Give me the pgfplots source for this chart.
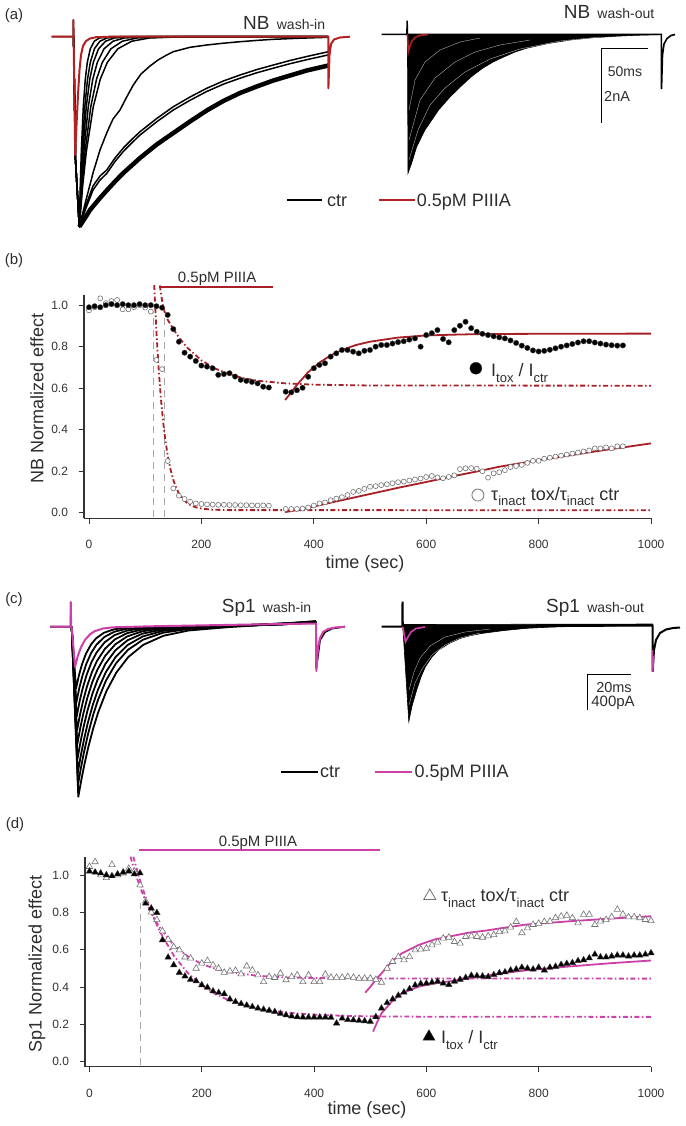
\documentclass[border=0pt]{standalone}
\usepackage{fontspec}
\setmainfont{Liberation Sans}
\usepackage{pgfplots}
\pgfplotsset{compat=1.18}
\definecolor{tred}{RGB}{178,34,34}
\definecolor{fred}{RGB}{168,32,38}
\definecolor{mag}{RGB}{204,64,168}
\definecolor{txt}{RGB}{45,45,45}
\newcommand{\fs}[1]{\fontsize{#1}{#1}\selectfont}
\newcommand{\sbx}[1]{\raisebox{-0.32em}{\fs{13}#1}}
\pgfplotsset{
 dataax/.style={scale only axis, axis lines*=left,
   axis line style={-, line width=1.1pt, black!80},
   tick align=outside, major tick length=5.5pt,
   tick style={line width=1pt, black!80},
   xtick={0,200,400,600,800,1000}, ytick={0,0.2,0.4,0.6,0.8,1},
   clip=false,
   tick label style={font=\fs{12}, text=black!80},
   /pgf/number format/assume math mode=true,
   /pgf/number format/1000 sep={},
   yticklabel style={/pgf/number format/.cd, fixed, fixed zerofill, precision=1, /tikz/.cd, xshift=-7pt},
   xticklabel style={yshift=-13pt}},
 tr/.style={black, line width=1.5pt, line join=round},
 dd/.style={line width=1.8pt, dash pattern=on 5pt off 2.5pt on 1.5pt off 2.5pt},
 gd/.style={black!35, line width=1pt, dash pattern=on 7pt off 5pt},
 wl/.style={white, line width=0.35pt, opacity=0.75},
}
\begin{document}
\begin{tikzpicture}
\useasboundingbox (0,0) rectangle (685pt,-1126pt);
% ================= pixel axis for traces (a) and (c)
\begin{axis}[at={(0pt,0pt)}, anchor=north west, x=1pt, y=1pt, y dir=reverse,
  xmin=0, xmax=685, ymin=0, ymax=1126, hide axis, clip=false, scale only axis]
% ---- (a) wash-in black traces
\addplot[tr] coordinates {(51.7,36.7)(73.3,36.7)(73.4,20)(73.6,36.7)(75.5,160)(79.3,226.7)(80.3,184.7)(81.3,151.9)(83.3,106.6)(85.3,79.1)(87.3,62.4)(90.3,48.8)(94.3,41.2)(99.3,38.0)(109.3,36.7)(328.3,36.7)};
\addplot[tr] coordinates {(73.6,36.7)(75.5,160)(79.3,226.7)(80.7,184.7)(82.05,151.9)(84.8,106.6)(87.55,79.1)(90.3,62.4)(94.4,48.8)(99.9,41.2)(106.8,38.0)(120.55,36.7)(328.3,36.7)};
\addplot[tr] coordinates {(73.6,36.7)(75.5,160)(79.3,226.7)(81.05,184.7)(82.8,151.9)(86.3,106.6)(89.8,79.1)(93.3,62.4)(98.55,48.8)(105.55,41.2)(114.3,38.0)(131.8,36.7)(328.3,36.7)};
\addplot[tr] coordinates {(73.6,36.7)(75.5,160)(79.3,226.7)(81.55,184.7)(83.8,151.9)(88.3,106.6)(92.8,79.1)(97.3,62.4)(104.05,48.8)(113.05,41.2)(124.3,38.0)(146.8,36.7)(328.3,36.7)};
\addplot[tr] coordinates {(73.6,36.7)(75.5,160)(79.3,226.7)(82.2,184.7)(85.05,151.9)(90.8,106.6)(96.55,79.1)(102.3,62.4)(110.9,48.8)(122.4,41.2)(136.8,38.0)(165.55,36.7)(328.3,36.7)};
\addplot[tr] coordinates {(73.6,36.7)(75.5,160)(79.3,226.7)(82.8,184.7)(86.3,151.9)(93.3,106.6)(100.3,79.1)(107.3,62.4)(117.8,48.8)(131.8,41.2)(149.3,38.0)(184.3,36.7)(328.3,36.7)};
\addplot[tr] coordinates {(73.6,36.7)(75.5,160)(79.3,226.7)(86,200)(93.3,172)(100,150)(106.7,133)(113,119)(120,110)(126.7,97)(133.3,85)(141,74)(150,66)(158,60)(166.7,55)(173.3,51.7)(190,47.3)(206.7,45)(223.3,43.2)(240,41.7)(256.7,40.4)(273.3,39.3)(300,38.2)(328.3,37.3)};
\addplot[tr] coordinates {(79.3,226.7)(86,205)(93,186)(100,176)(106.7,170)(115,158)(123.3,148)(131.7,139.5)(140,131.7)(156.7,118.5)(173.3,106.7)(190,97)(206.7,88.3)(223.3,81)(240,75)(256.7,69.6)(273.3,65)(290,60.5)(306.7,56.5)(328.3,51.7)};
\addplot[tr] coordinates {(79.3,226.7)(86,208)(93,190)(100,180)(106.7,173.5)(115,161.5)(123.3,151.5)(131.7,143)(140,135)(156.7,121.8)(173.3,110)(190,100.3)(206.7,91.5)(223.3,84.2)(240,78.2)(256.7,72.8)(273.3,68.2)(290,63.7)(306.7,59.7)(328.3,54.9)};
\addplot[black, line width=4.5pt, line join=round] coordinates {(79.3,226.7)(85,218)(90,210)(100,198)(106.7,190.5)(115,181.5)(123.3,173)(131.7,165.5)(140,158)(156.7,144.5)(173.3,133)(190,121.5)(206.7,110.5)(223.3,101)(240,93)(256.7,86.5)(273.3,80.5)(290,75.5)(306.7,70.5)(328.3,65.5)};
% red (a) wash-in
\addplot[tred, line width=2pt, line join=round] coordinates {(51.7,36.7)(73.3,36.7)(73.4,20)(73.6,36.7)(75.2,155)(76.5,125)(78,95)(79.5,70)(81,55)(83,46)(86,41)(90,38.5)(96,37.2)(110,36.7)(328.3,36.7)(328.4,88.3)(329.5,55)(331,44)(334,39.5)(340,37.5)(350,36.7)};
% ---- (a) wash-out
\addplot[black, fill=black, line width=0.6pt] coordinates {(407.4,34.3)(408,173.3)(412,162)(416.7,146.7)(425,130)(438.6,110)(450,97)(460.5,86.7)(471,77)(482.5,68.3)(493,62)(504.4,56.7)(515,52)(526.3,48.3)(548,43.5)(570.2,40)(592,37.8)(614,36.3)(636,35.3)(657.9,34.7)(661.4,34.4)} -- cycle;
\addplot[wl] coordinates {(409,110)(415,80)(425,62)(440,50)(460,42)(480,38)};
\addplot[wl] coordinates {(409,140)(420,100)(435,78)(455,62)(475,52)(500,45)(530,40)};
\addplot[wl] coordinates {(409,160)(418,130)(430,105)(445,88)(465,72)(490,59)(520,49)(560,41)(600,37)};
\addplot[black, line width=1.6pt] coordinates {(381.6,34.3)(407,34.3)(407.1,20.7)(407.4,34.3)(661.4,34.4)(661.5,89)(662.5,55)(664,44)(667,38.5)(671,35.5)(675,34.5)};
\addplot[tred, line width=1.6pt] coordinates {(407.4,34.3)(408.3,52)(410,46)(412,41)(415,37.5)(420,35.3)(428,34.5)};
% scale bar (a)
\addplot[black, line width=1pt] coordinates {(648.2,48.3)(601.8,48.3)(601.8,123.3)};
% legend (a)
\addplot[black, line width=2pt] coordinates {(287.3,200)(322.4,200)};
\addplot[tred, line width=2pt] coordinates {(379.4,200)(414.5,200)};
% ---- (c) wash-in black traces
\addplot[tr, line width=1.8pt] coordinates {(50,626.7)(70.7,626.7)(70.8,602.3)(71.1,626.7)(71.7,627)(78.3,796.7)(81.3,780.0)(84.3,764.9)(88.3,747.1)(93.3,728.1)(98.3,712.0)(106.3,691.4)(116.3,672.6)(128.3,657.0)(143.3,644.8)(163.3,635.8)(188.3,630.5)(230,627)(280,624)(316,622)(316.3,668)(320,640)(325,632)(332,628.5)(345,626.7)};
\addplot[tr, line width=1.8pt] coordinates {(71.7,627)(78,784.7)(81,767.5)(84,752.2)(88,734.3)(93,715.4)(98,699.9)(106,680.5)(116,663.3)(128,649.8)(143,639.7)(163,632.7)(188,629.0)(230,626.5)(280,623.5)(316,621.5)};
\addplot[tr, line width=1.8pt] coordinates {(71.7,627)(77.8,772.7)(80.8,755.5)(83.8,740.4)(87.8,722.9)(92.8,704.9)(97.8,690.2)(105.8,672.2)(115.8,656.7)(127.8,644.9)(142.8,636.4)(162.8,630.9)(187.8,628.2)(230,626)(280,623.5)(316,622)};
\addplot[tr, line width=1.8pt] coordinates {(71.7,627)(77.5,758.7)(80.5,741.9)(83.5,727.2)(87.5,710.5)(92.5,693.5)(97.5,679.9)(105.5,663.7)(115.5,650.2)(127.5,640.3)(142.5,633.6)(162.5,629.5)(187.5,627.6)(230,626)(280,624)(316,621)};
\addplot[tr, line width=1.8pt] coordinates {(71.7,627)(77.2,744.7)(80.2,728.3)(83.2,714.1)(87.2,698.3)(92.2,682.4)(97.2,670.1)(105.2,655.8)(115.2,644.4)(127.2,636.4)(142.2,631.3)(162.2,628.4)(200,626.5)(280,624)(316,622)};
\addplot[tr, line width=1.8pt] coordinates {(71.7,627)(77,730.7)(80,714.7)(83,701.2)(87,686.4)(92,671.9)(97,660.9)(105,648.7)(115,639.3)(127,633.2)(142,629.5)(162,627.6)(200,626.5)(280,624.5)(316,622.5)};
\addplot[tr, line width=1.8pt] coordinates {(71.7,627)(76.6,716.7)(79.6,701.3)(82.6,688.6)(86.6,674.9)(91.6,661.9)(96.6,652.5)(104.6,642.3)(114.6,635.1)(126.6,630.7)(141.6,628.2)(200,626.5)(280,624)(316,622)};
\addplot[tr, line width=1.8pt] coordinates {(71.7,627)(76.3,702.7)(79.3,688.0)(82.3,676.2)(86.3,663.9)(91.3,652.7)(96.3,644.9)(104.3,637.0)(114.3,631.7)(126.3,628.8)(200,626.5)(280,624.5)(316,622.5)};
\addplot[tr, line width=1.8pt] coordinates {(71.7,627)(76,688.7)(79,675.0)(82,664.3)(86,653.6)(91,644.5)(96,638.4)(104,632.7)(114,629.3)(126,627.7)(200,626.5)(280,624.5)(316,622)};
\addplot[mag, line width=2pt, line join=round] coordinates {(50,626.7)(70.7,626.7)(70.8,602.3)(71.1,626.7)(71.7,627)(75,666.7)(78,655.4)(81,647.2)(85,639.9)(90,634.3)(95,631.0)(103,628.5)(113,627.3)(150,626.3)(250,624.5)(316,623.5)(316.3,671)(318,648)(320,638)(323,632)(328,629)(335,627.5)(345,626.7)};
% ---- (c) wash-out
\addplot[black, fill=black, line width=0.6pt] coordinates {(402.8,626.7)(408.8,721.7)(412,706)(416.7,690)(421,677)(425.4,666.7)(432,657)(438.6,650)(449,643.5)(460.5,638.3)(471,635.5)(482.5,633.3)(504,630.5)(526.3,628.3)(548,627.2)(570,626.5)(652.6,625.5)(652.6,624)(402.8,624.5)} -- cycle;
\addplot[wl] coordinates {(409,690)(414,672)(420,658)(430,646)(445,637)(465,632)(490,629)};
\addplot[wl] coordinates {(409,705)(415,683)(422,669)(432,655)(445,645)(460,638)(480,633)};
\addplot[black, line width=2pt] coordinates {(381.6,626.7)(402.4,626.7)(402.5,601.7)(402.8,626.7)(652.6,625.5)(652.7,671.7)(654,650)(656,640)(660,633)(666,629.5)(673,628)(680,627.5)};
\addplot[mag, line width=1.6pt] coordinates {(402.8,626.7)(405.5,641.7)(408,637)(411,632)(416,628.5)(425,627)};
\addplot[mag, line width=1.6pt] coordinates {(652.6,650)(652.7,671.7)(653.6,656)};
% scale bar (c)
\addplot[black, line width=1pt] coordinates {(630.7,674)(587.7,674)(587.7,710)};
% legend (c)
\addplot[black, line width=2pt] coordinates {(280.7,771.7)(318,771.7)};
\addplot[mag, line width=2pt] coordinates {(375,771.7)(412.3,771.7)};
\end{axis}
% ================= panel (b)
\begin{axis}[dataax, at={(84pt,-518.3pt)}, anchor=south west, width=567pt, height=223.3pt,
  xmin=-8.9, xmax=1000, ymin=-0.027, ymax=1.049]
\addplot[gd] coordinates {(114.4,-0.02)(114.4,0.97)};
\addplot[gd] coordinates {(134,-0.02)(134,0.97)};
\addplot[only marks, mark=*, mark size=2.5pt, mark options={draw=black!55, fill=white, line width=0.6pt}] coordinates {
(0,0.975)(10,0.99)(20,1.033)(30,1.01)(40,1.02)(50,1.025)(60,0.98)(70,0.98)(80,0.99)(90,1.0)(100,0.988)(110,0.969)
(120,0.736)(130,0.692)(140,0.249)(150,0.117)(160,0.082)(170,0.066)(180,0.053)(190,0.045)(200,0.042)(210,0.040)
(220,0.039)(230,0.038)(240,0.038)(250,0.037)(260,0.037)(270,0.036)(280,0.036)(290,0.035)(300,0.035)(310,0.035)(320,0.034)
(350,0.018)(360,0.018)(370,0.018)(380,0.02)(390,0.025)(400,0.035)(410,0.045)(420,0.05)(430,0.06)(440,0.068)(450,0.075)
(460,0.085)(470,0.1)(480,0.105)(490,0.115)(500,0.125)(510,0.128)(520,0.133)(530,0.137)(540,0.142)(550,0.147)(560,0.15)
(570,0.155)(580,0.16)(590,0.165)(600,0.172)(610,0.177)(620,0.17)(630,0.166)(640,0.172)(650,0.18)(660,0.21)(670,0.214)
(680,0.215)(690,0.212)(700,0.2)(710,0.169)(720,0.19)(730,0.195)(740,0.205)(750,0.22)(760,0.225)(770,0.23)(780,0.24)
(790,0.25)(800,0.25)(810,0.26)(820,0.265)(830,0.27)(840,0.275)(850,0.28)(860,0.285)(870,0.29)(880,0.295)(890,0.30)
(900,0.31)(910,0.31)(920,0.315)(930,0.31)(940,0.32)(950,0.32)};
\addplot[only marks, mark=*, mark size=2.7pt, mark options={draw=black!75, fill=black}] coordinates {
(0,0.99)(10,0.995)(20,0.99)(30,1.0)(40,1.005)(50,1.0)(60,1.005)(70,1.0)(80,1.0)(90,1.005)(100,1.0)(110,1.0)(120,0.995)
(130,0.988)(140,0.953)(150,0.885)(160,0.824)(170,0.771)(180,0.752)(190,0.731)(200,0.709)(210,0.704)(220,0.696)(230,0.664)
(240,0.668)(250,0.672)(260,0.656)(270,0.64)(280,0.635)(290,0.630)(300,0.623)(310,0.607)(320,0.603)
(350,0.583)(360,0.580)(370,0.590)(380,0.602)(390,0.655)(400,0.696)(410,0.712)(420,0.72)(430,0.752)(440,0.768)(450,0.784)
(460,0.784)(470,0.776)(480,0.768)(490,0.780)(500,0.784)(510,0.800)(520,0.808)(530,0.808)(540,0.815)(550,0.822)(560,0.826)
(570,0.834)(580,0.840)(590,0.800)(600,0.856)(610,0.865)(620,0.880)(630,0.837)(640,0.821)(650,0.880)(660,0.901)(670,0.920)
(680,0.889)(690,0.872)(700,0.862)(710,0.856)(720,0.850)(730,0.845)(740,0.840)(750,0.830)(760,0.818)(770,0.805)(780,0.794)
(790,0.782)(800,0.777)(810,0.780)(820,0.785)(830,0.792)(840,0.800)(850,0.806)(860,0.813)(870,0.820)(880,0.826)(890,0.826)
(900,0.820)(910,0.815)(920,0.810)(930,0.807)(940,0.805)(950,0.806)};
\addplot[fred, dd] coordinates {(126,1.095)(129,1.04)(132,0.99)(136,0.955)(140,0.93)(150,0.885)(160,0.845)(175,0.795)(200,0.734)(225,0.694)(250,0.667)(275,0.648)(300,0.636)(350,0.623)(400,0.617)(500,0.613)(1000,0.612)};
\addplot[fred, dd] coordinates {(116,1.097)(120,0.869)(124,0.690)(128,0.548)(132,0.435)(136,0.346)(140,0.277)(145,0.209)(150,0.158)(155,0.121)(160,0.093)(170,0.057)(180,0.037)(190,0.026)(200,0.020)(220,0.0144)(250,0.0125)(1000,0.012)};
\addplot[fred, line width=1.8pt] coordinates {(349,0.543)(370,0.616)(390,0.677)(410,0.723)(430,0.758)(450,0.784)(475,0.808)(500,0.824)(550,0.844)(600,0.854)(650,0.858)(700,0.861)(800,0.862)(1000,0.863)};
\addplot[fred, line width=1.8pt] coordinates {(349,0.003)(380,0.017)(400,0.03)(437.7,0.053)(500,0.09)(550,0.12)(600,0.148)(650,0.177)(700,0.204)(731,0.222)(800,0.253)(900,0.295)(1000,0.334)};
\addplot[fred, line width=2.3pt] coordinates {(128.4,1.089)(327.6,1.089)};
\node[font=\fs{15}, text=txt] at (axis cs:228,1.126) {0.5pM PIIIA};
\addplot[only marks, mark=*, mark size=6pt, mark options={draw=black!75, fill=black}] coordinates {(688.4,0.696)};
\addplot[only marks, mark=*, mark size=6pt, mark options={draw=black!55, fill=white, line width=0.8pt}] coordinates {(692,0.085)};
\end{axis}
% ================= panel (d)
\begin{axis}[dataax, at={(85pt,-1066.7pt)}, anchor=south west, width=566pt, height=210pt,
  xmin=-8, xmax=1000, ymin=-0.0268, ymax=1.098]
\addplot[gd] coordinates {(90,-0.02)(90,0.85)};
\addplot[only marks, mark=triangle*, mark size=3.7pt, mark options={draw=black!55, fill=white, line width=0.6pt}] coordinates {
(0,1.045)(10,1.07)(20,1.0)(30,0.985)(40,1.055)(50,1.0)(60,1.01)(70,1.035)(80,1.02)(90,0.946)(100,0.86)(110,0.80)(120,0.76)
(130,0.70)(140,0.655)(150,0.615)(160,0.598)(170,0.56)(180,0.554)(190,0.50)(200,0.527)(210,0.541)(220,0.518)(230,0.50)
(240,0.478)(250,0.485)(260,0.488)(270,0.47)(280,0.512)(290,0.49)(300,0.464)(310,0.428)(320,0.455)(330,0.45)(340,0.473)
(350,0.438)(360,0.455)(370,0.464)(380,0.428)(390,0.464)(400,0.428)(410,0.428)(420,0.468)(430,0.451)(440,0.451)(450,0.451)
(460,0.455)(470,0.451)(480,0.446)(490,0.446)(500,0.446)(510,0.44)(520,0.425)(530,0.50)(540,0.536)(550,0.562)(560,0.545)
(570,0.562)(580,0.598)(590,0.602)(600,0.607)(610,0.625)(620,0.64)(630,0.661)(640,0.666)(650,0.643)(660,0.634)(670,0.67)
(680,0.673)(690,0.67)(700,0.666)(710,0.673)(720,0.68)(730,0.696)(740,0.70)(750,0.72)(760,0.75)(770,0.69)(780,0.716)
(790,0.734)(800,0.74)(810,0.75)(820,0.752)(830,0.77)(840,0.779)(850,0.783)(860,0.77)(870,0.743)(880,0.788)(890,0.788)
(900,0.734)(910,0.752)(920,0.76)(930,0.775)(940,0.815)(950,0.79)(960,0.775)(970,0.775)(980,0.77)(990,0.761)(1000,0.755)};
\addplot[only marks, mark=triangle*, mark size=3.7pt, mark options={draw=black!80, fill=black}] coordinates {
(0,1.02)(10,1.015)(20,1.01)(30,1.0)(40,0.995)(50,1.005)(60,1.015)(70,1.02)(80,1.005)(90,1.01)(100,0.848)(110,0.822)
(120,0.798)(130,0.652)(140,0.559)(150,0.518)(160,0.477)(170,0.458)(180,0.44)(190,0.432)(200,0.411)(210,0.398)(220,0.378)
(230,0.37)(240,0.363)(250,0.335)(260,0.321)(270,0.31)(280,0.302)(290,0.294)(300,0.286)(310,0.28)(320,0.274)(330,0.268)
(340,0.258)(350,0.25)(360,0.244)(370,0.24)(380,0.238)(390,0.238)(400,0.238)(410,0.238)(420,0.238)(430,0.236)(440,0.206)
(450,0.232)(460,0.224)(470,0.223)(480,0.22)(490,0.218)(500,0.215)(510,0.24)(520,0.286)(530,0.315)(540,0.335)(550,0.355)
(560,0.372)(570,0.39)(580,0.41)(590,0.418)(600,0.42)(610,0.425)(620,0.43)(630,0.42)(640,0.412)(650,0.43)(660,0.44)
(670,0.45)(680,0.462)(690,0.46)(700,0.458)(710,0.455)(720,0.465)(730,0.475)(740,0.48)(750,0.49)(760,0.495)(770,0.505)
(780,0.50)(790,0.495)(800,0.505)(810,0.49)(820,0.505)(830,0.51)(840,0.52)(850,0.525)(860,0.53)(870,0.54)(880,0.545)
(890,0.555)(900,0.575)(910,0.56)(920,0.56)(930,0.565)(940,0.57)(950,0.57)(960,0.565)(970,0.57)(980,0.57)(990,0.575)(1000,0.582)};
\addplot[mag, dd] coordinates {(78,1.098)(80,1.076)(90,0.972)(100,0.88)(110,0.80)(125,0.699)(150,0.569)(175,0.475)(200,0.409)(225,0.361)(250,0.327)(275,0.302)(300,0.284)(350,0.263)(400,0.252)(450,0.246)(500,0.243)(600,0.241)(1000,0.24)};
\addplot[mag, dd] coordinates {(73,1.098)(80,1.024)(90,0.935)(100,0.86)(110,0.796)(125,0.719)(150,0.625)(175,0.564)(200,0.523)(225,0.497)(250,0.479)(300,0.460)(350,0.451)(400,0.448)(500,0.446)(1000,0.445)};
\addplot[mag, line width=1.8pt] coordinates {(491,0.37)(500,0.40)(510,0.44)(520,0.473)(538,0.536)(556,0.58)(586,0.625)(615,0.655)(645,0.673)(675,0.691)(705,0.702)(731,0.714)(776,0.734)(854,0.752)(930,0.767)(1000,0.779)};
\addplot[mag, line width=1.8pt] coordinates {(505,0.161)(512,0.21)(520,0.259)(538,0.321)(556,0.366)(586,0.402)(615,0.42)(645,0.432)(675,0.446)(705,0.459)(731,0.473)(780,0.49)(854,0.51)(930,0.528)(1000,0.542)};
\addplot[mag, line width=2.5pt] coordinates {(89,1.135)(517,1.135)};
\node[font=\fs{15}, text=txt] at (axis cs:300,1.17) {0.5pM PIIIA};
\addplot[only marks, mark=triangle*, mark size=7pt, mark options={draw=black!55, fill=white, line width=0.8pt}] coordinates {(606,0.8875)};
\addplot[only marks, mark=triangle*, mark size=7pt, mark options={draw=black!80, fill=black}] coordinates {(604.6,0.134)};
\end{axis}
% ================= texts
\begin{scope}[every node/.style={inner sep=0pt, text=txt}]
\node[font=\fs{15}] at (14pt,-16pt) {(a)};
\node[font=\fs{15}] at (14pt,-261pt) {(b)};
\node[font=\fs{15}] at (14pt,-600pt) {(c)};
\node[font=\fs{15}] at (15pt,-825pt) {(d)};
\node[anchor=base west] at (243pt,-30pt) {\fs{19}NB\hspace{2pt} \fs{14}wash-in};
\node[anchor=base west] at (563.6pt,-18.3pt) {\fs{19}NB\hspace{2pt} \fs{14}wash-out};
\node[anchor=base west] at (221.7pt,-612pt) {\fs{19}Sp1\hspace{2pt} \fs{14}wash-in};
\node[anchor=base west] at (546pt,-612pt) {\fs{19}Sp1\hspace{2pt} \fs{14}wash-out};
\node[font=\fs{14}] at (625pt,-71.7pt) {50ms};
\node[font=\fs{14.5}, anchor=west] at (604pt,-96.7pt) {2nA};
\node[font=\fs{14.5}] at (614pt,-687.5pt) {20ms};
\node[font=\fs{15}] at (613pt,-703pt) {400pA};
\node[font=\fs{18}, anchor=base west] at (326.8pt,-206.5pt) {ctr};
\node[font=\fs{18}, anchor=base west] at (416.7pt,-206.5pt) {0.5pM PIIIA};
\node[font=\fs{18}, anchor=base west] at (320pt,-777.5pt) {ctr};
\node[font=\fs{18}, anchor=base west] at (414.5pt,-777.5pt) {0.5pM PIIIA};
\node[font=\fs{18}] at (365pt,-564.3pt) {time (sec)};
\node[font=\fs{18}] at (367pt,-1110pt) {time (sec)};
\node[font=\fs{18}, rotate=90] at (37pt,-398.5pt) {NB Normalized effect};
\node[font=\fs{18}, rotate=90] at (37pt,-964pt) {Sp1 Normalized effect};
\node[font=\fs{18}, anchor=base west] at (491pt,-376.7pt) {I\sbx{tox} / I\sbx{ctr}};
\node[font=\fs{18}, anchor=base west] at (491pt,-500pt) {τ\sbx{inact} tox/τ\sbx{inact} ctr};
\node[font=\fs{18}, anchor=base west] at (440.8pt,-901.7pt) {τ\sbx{inact} tox/τ\sbx{inact} ctr};
\node[font=\fs{18}, anchor=base west] at (440.8pt,-1043.3pt) {I\sbx{tox} / I\sbx{ctr}};
\end{scope}
\end{tikzpicture}
\end{document}
